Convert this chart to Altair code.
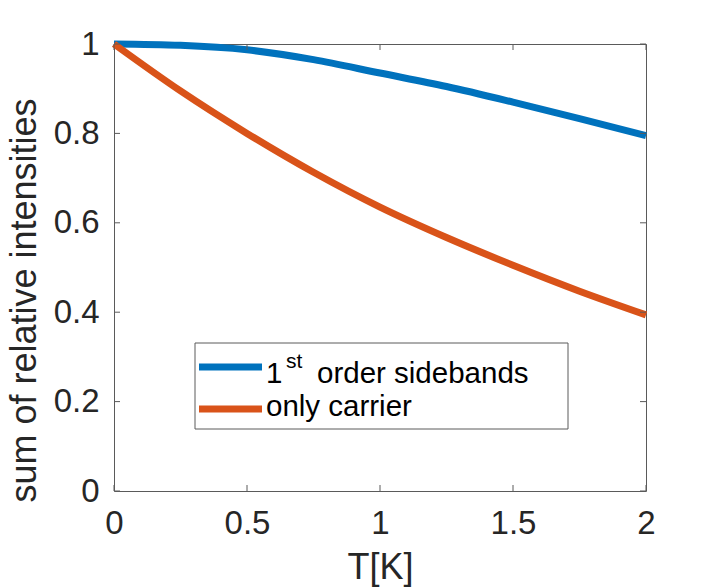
import altair as alt
import pandas as pd

# ---- data ----
T = [0, 0.25, 0.5, 0.75, 1.0, 1.25, 1.5, 1.75, 2.0]
sidebands = [1.0, 0.997, 0.987, 0.965, 0.935, 0.905, 0.870, 0.833, 0.795]
carrier = [1.0, 0.895, 0.80, 0.713, 0.635, 0.567, 0.505, 0.447, 0.394]
series_names = ["1st order sidebands", "only carrier"]
colors = ["#0072BD", "#D95319"]
x_ticks = [0, 0.5, 1, 1.5, 2]
y_ticks = [0, 0.2, 0.4, 0.6, 0.8, 1]
legend_first = ["1", "st", "order sidebands"]
legend_second = "only carrier"

W, H = 532, 447
FONT = "Liberation Sans"
AX = "#5a5a5a"
TXT = "#262626"

df = pd.DataFrame({
    "T": T * 2,
    "value": sidebands + carrier,
    "series": [series_names[0]] * len(T) + [series_names[1]] * len(T),
})

xs = alt.Scale(domain=[0, 2], nice=False, zero=False)
ys = alt.Scale(domain=[0, 1], nice=False, zero=False)

x_axis = alt.Axis(
    values=x_ticks, format="~g", title="T[K]", grid=False, ticks=False, domain=False,
    labelFont=FONT, labelFontSize=33, labelColor=TXT, labelPadding=16,
    labelBaseline="top", labelFlush=False,
    titleFont=FONT, titleFontSize=36, titleFontWeight="normal", titleColor=TXT,
    titleBaseline="alphabetic", titleY=87)
y_axis = alt.Axis(
    values=y_ticks, format="~g", title="sum of relative intensities", grid=False,
    ticks=False, domain=False,
    labelFont=FONT, labelFontSize=33, labelColor=TXT, labelPadding=15,
    labelBaseline="middle", labelFlush=False,
    titleFont=FONT, titleFontSize=36, titleFontWeight="normal", titleColor=TXT,
    titleAngle=270, titleAlign="center", titleBaseline="alphabetic",
    titleX=-79, titleY=256)

lines = alt.Chart(df).mark_line(strokeWidth=7, interpolate="monotone", clip=False).encode(
    x=alt.X("T:Q", scale=xs, axis=x_axis),
    y=alt.Y("value:Q", scale=ys, axis=y_axis),
    color=alt.Color("series:N", scale=alt.Scale(domain=series_names, range=colors), legend=None),
)

xt = pd.DataFrame({"T": x_ticks})
yt = pd.DataFrame({"value": y_ticks})
tick_bottom = alt.Chart(xt).mark_rule(color=AX, strokeWidth=1).encode(
    x=alt.X("T:Q", scale=xs, axis=x_axis), y=alt.value(H), y2=alt.value(H - 6))
tick_top = alt.Chart(xt).mark_rule(color=AX, strokeWidth=1).encode(
    x=alt.X("T:Q", scale=xs, axis=x_axis), y=alt.value(0), y2=alt.value(6))
tick_left = alt.Chart(yt).mark_rule(color=AX, strokeWidth=1).encode(
    y=alt.Y("value:Q", scale=ys, axis=y_axis), x=alt.value(0), x2=alt.value(6))
tick_right = alt.Chart(yt).mark_rule(color=AX, strokeWidth=1).encode(
    y=alt.Y("value:Q", scale=ys, axis=y_axis), x=alt.value(W), x2=alt.value(W - 6))

one = pd.DataFrame({"a": [0]})
leg_box = alt.Chart(one).mark_rect(fill="white", stroke=AX, strokeWidth=1).encode(
    x=alt.value(81), x2=alt.value(454), y=alt.value(299), y2=alt.value(385))
leg_l1 = alt.Chart(one).mark_rule(color=colors[0], strokeWidth=7).encode(
    x=alt.value(85), x2=alt.value(148), y=alt.value(323))
leg_l2 = alt.Chart(one).mark_rule(color=colors[1], strokeWidth=7).encode(
    x=alt.value(85), x2=alt.value(148), y=alt.value(365))

def txt(s, x, y, size):
    return alt.Chart(one).mark_text(
        align="left", baseline="alphabetic", font=FONT, fontSize=size, color="black"
    ).encode(x=alt.value(x), y=alt.value(y), text=alt.value(s))

leg_t1 = txt(legend_first[0], 152, 339, 29.5)
leg_t2 = txt(legend_first[1], 172, 324, 21)
leg_t3 = txt(legend_first[2], 203, 339, 29.5)
leg_t4 = txt(legend_second, 152, 372, 29.5)

chart = alt.layer(
    lines, tick_bottom, tick_top, tick_left, tick_right,
    leg_box, leg_l1, leg_l2, leg_t1, leg_t2, leg_t3, leg_t4,
).properties(
    width=W, height=H,
    autosize=alt.AutoSizeParams(type="none"),
    padding={"left": 114, "top": 44, "right": 69, "bottom": 97},
    background="white",
).configure_view(stroke=AX, strokeWidth=1)

chart.save("out.html", embed_options={"renderer": "svg", "actions": False})
